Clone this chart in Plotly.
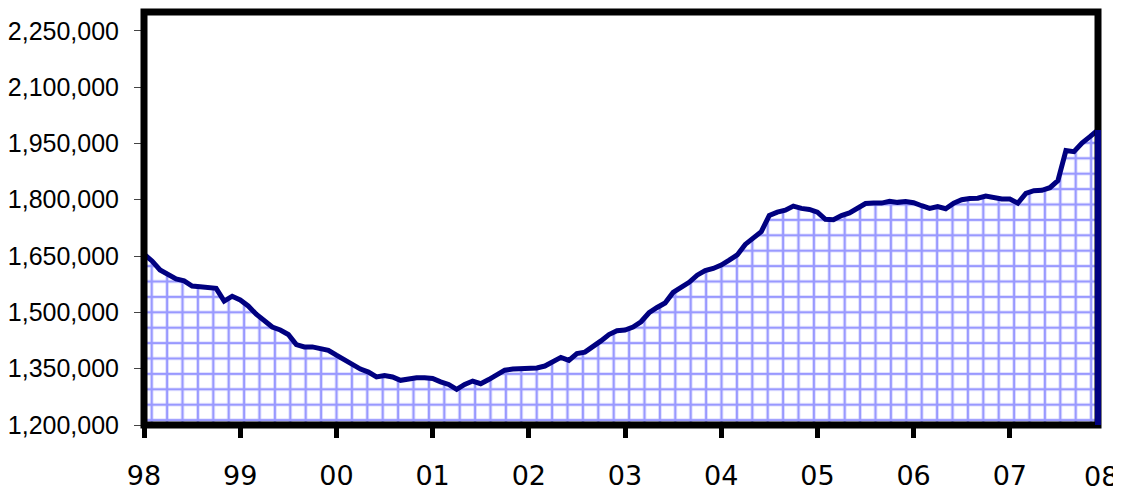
import plotly.graph_objects as go

# Monthly values, Jan 1998 .. Dec 2007
values = [
    1655000, 1637000, 1613000, 1599000, 1589000, 1584000, 1570000, 1568000, 1565000, 1564000, 1530000, 1543000,
    1533000, 1517000, 1495000, 1477000, 1461000, 1453000, 1441000, 1414000, 1408000, 1408000, 1405000, 1399000,
    1386000, 1374000, 1364000, 1349000, 1341000, 1328000, 1332000, 1328000, 1319000, 1324000, 1326000, 1326000,
    1324000, 1315000, 1308000, 1295000, 1308000, 1317000, 1310000, 1321000, 1332000, 1346000, 1349000, 1350000,
    1350000, 1352000, 1357000, 1368000, 1380000, 1372000, 1390000, 1394000, 1408000, 1424000, 1441000, 1451000,
    1453000, 1461000, 1475000, 1499000, 1513000, 1525000, 1553000, 1567000, 1580000, 1599000, 1611000, 1617000,
    1626000, 1639000, 1653000, 1681000, 1699000, 1715000, 1758000, 1767000, 1772000, 1783000, 1777000, 1774000,
    1767000, 1748000, 1747000, 1758000, 1765000, 1777000, 1790000, 1791000, 1791000, 1796000, 1793000, 1795000,
    1792000, 1784000, 1777000, 1782000, 1776000, 1791000, 1800000, 1803000, 1804000, 1810000, 1806000, 1802000,
    1802000, 1791000, 1817000, 1824000, 1825000, 1832000, 1851000, 1931000, 1928000, 1951000, 1968000, 1986000,
]
months = list(range(len(values)))

year_labels = ["98", "99", "00", "01", "02", "03", "04", "05", "06", "07"]
end_label = "08"
year_ticks = [12 * i for i in range(len(year_labels))]

y_min, y_max = 1200000, 2300000
y_ticks = [1200000, 1350000, 1500000, 1650000, 1800000, 1950000, 2100000, 2250000]

NAVY = "#000080"
XFONT = dict(family="Comic Sans MS, DejaVu Sans", size=27, color="black")

fig = go.Figure()
fig.add_trace(go.Scatter(
    x=months, y=values, mode="lines",
    line=dict(color=NAVY, width=5),
    fill="tozeroy",
    fillcolor="white",
    fillpattern=dict(shape="+", fgcolor="#9999ff", bgcolor="white",
                     size=15.4, solidity=0.3, fillmode="replace"),
    hoverinfo="skip",
))

last_paper = (values[-1] - y_min) / (y_max - y_min)

# page body has an 8px margin, so the figure is 1113x483 placed at (8, 8)
fig.update_layout(
    width=1113, height=483,
    margin=dict(l=136, r=23, t=4, b=66, autoexpand=False),
    paper_bgcolor="white", plot_bgcolor="white",
    showlegend=False,
    xaxis=dict(
        range=[0, len(values) - 1],
        tickvals=year_ticks, ticktext=year_labels,
        ticks="outside", ticklen=12, tickwidth=5, tickcolor="black",
        showgrid=False, zeroline=False, showline=False, automargin=False,
        tickfont=XFONT,
        ticklabelstandoff=15,
    ),
    yaxis=dict(
        range=[y_min, y_max],
        tickvals=y_ticks, ticktext=[f"{v:,}" for v in y_ticks],
        ticks="outside", ticklen=9, tickwidth=1, tickcolor="#444",
        showgrid=False, zeroline=False, showline=False, automargin=False,
        tickfont=dict(family="Liberation Sans, Arial", size=25, color="black"),
        ticklabelstandoff=10,
    ),
    shapes=[
        dict(type="rect", xref="paper", yref="paper", x0=0, x1=1, y0=0, y1=1,
             line=dict(color="black", width=7), layer="above"),
        dict(type="line", xref="paper", yref="paper", x0=1, x1=1, y0=0, y1=last_paper,
             line=dict(color=NAVY, width=6), layer="above"),
    ],
    annotations=[
        dict(text=end_label, xref="paper", yref="paper", x=1, y=0,
             xanchor="center", yanchor="middle", xshift=3, yshift=-51,
             showarrow=False, font=XFONT),
    ],
)

fig.write_html("out.html")
